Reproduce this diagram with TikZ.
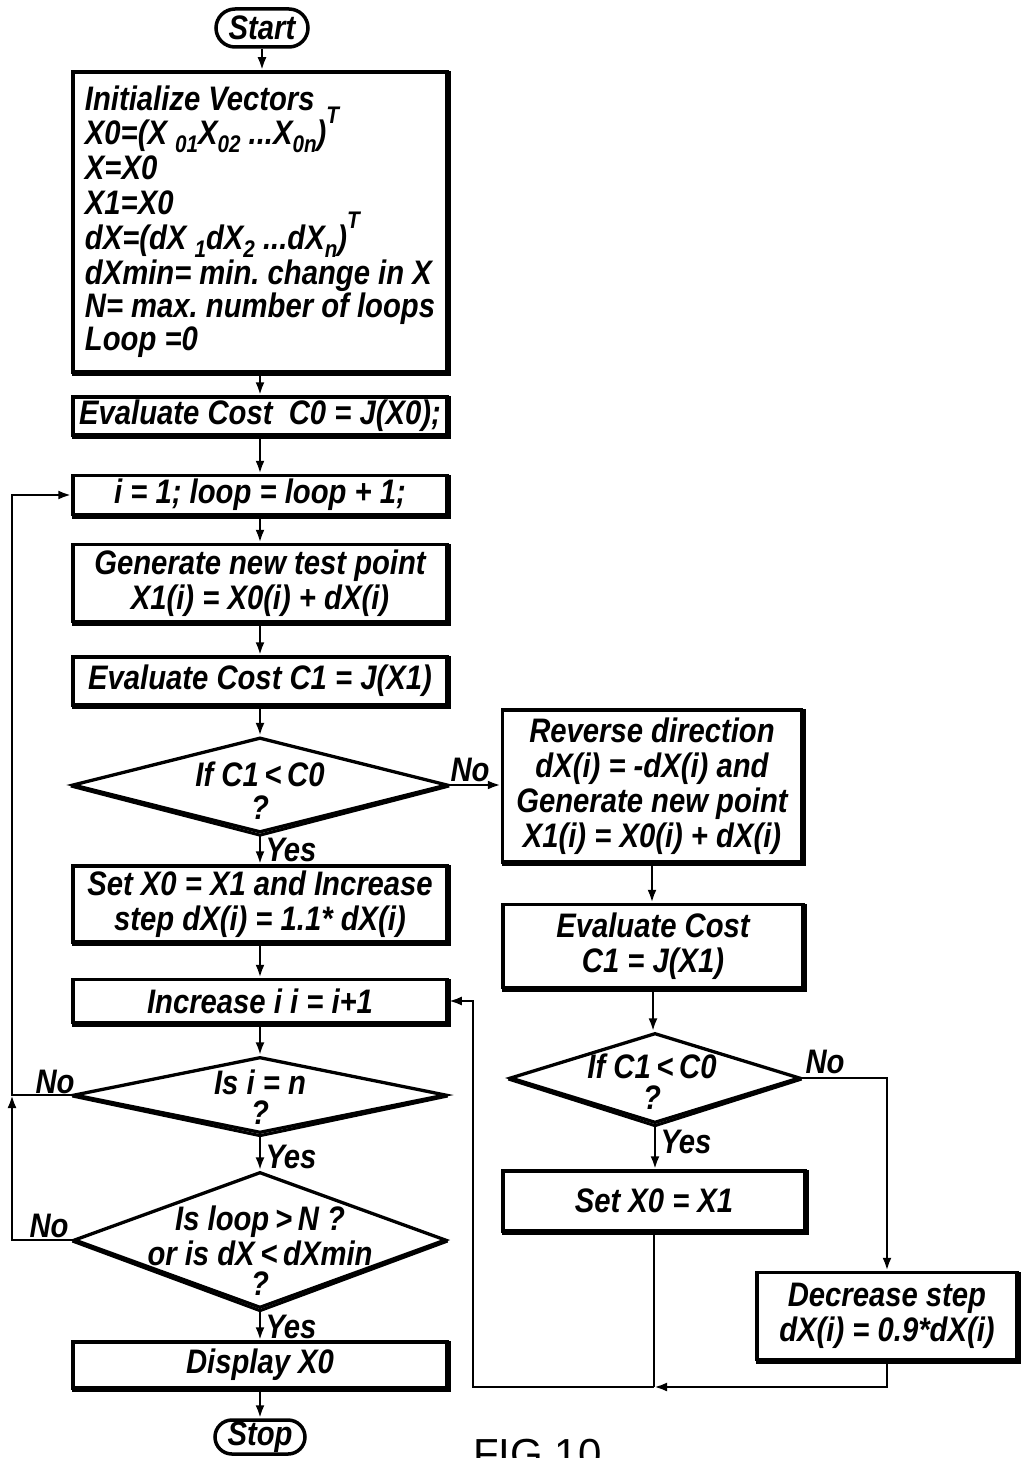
\documentclass[tikz,border=0pt]{standalone}
\usepackage{fontspec}
\setmainfont{Liberation Sans}
\newfontfamily\hv[FakeStretch=0.86]{Liberation Sans}
\usetikzlibrary{shapes.geometric,shapes.misc,arrows.meta}
\newcommand\mysb[1]{\raisebox{-0.22em}{\fontsize{24}{24}\selectfont #1}}
\newcommand\mysp[1]{\raisebox{0.62em}{\fontsize{24}{24}\selectfont #1}}
\newcommand\myfont{\hv\bfseries\itshape\fontsize{34}{35}\selectfont\frenchspacing\lineskiplimit=-60pt\relax}
\begin{document}
\begin{tikzpicture}[x=1pt,y=-1pt,
  every node/.style={font=\myfont, inner sep=0pt},
  box/.style={draw, line width=3.5pt, rectangle, align=center},
  dia/.style={draw, line width=3.3pt, diamond},
  term/.style={draw, line width=3.5pt, rounded rectangle},
  conn/.style={line width=2.6pt, -{Latex[length=13pt,width=9pt]}},
  plain/.style={line width=2.6pt},
  shade/.style={line width=3pt}]
\useasboundingbox (0,0) rectangle (1021,1458);

% left column
\node[term, minimum width=92pt, minimum height=38pt] (start) at (262,28) {Start};
\node[box, minimum width=374pt, minimum height=300pt, align=left] (init) at (260,222)
 {Initialize Vectors\\[-1pt]
  X0=(X \mysb{01}X\mysb{02} ...X\mysb{0n})\mysp{T}\\
  X=X0\\
  X1=X0\\
  dX=(dX \mysb{1}dX\mysb{2} ...dX\mysb{n})\mysp{T}\\
  dXmin= min. change in X\\[-2pt]
  N= max. number of loops\\[-2pt]
  Loop =0};
\node[box, minimum width=374pt, minimum height=38pt] (eval0) at (260,416) {Evaluate Cost~~C0 = J(X0);};
\node[box, minimum width=374pt, minimum height=39pt] (init1) at (260,495) {i = 1; loop = loop + 1;};
\node[box, minimum width=374pt, minimum height=77pt] (gen) at (260,583) {Generate new test point\\X1(i) = X0(i) + dX(i)};
\node[box, minimum width=374pt, minimum height=48pt] (eval1) at (260,681) {Evaluate Cost C1 = J(X1)};
\node[dia, minimum width=375pt, minimum height=95pt] (d1) at (260,785) {};
\node (d1a) at (260,774) {If C1\,<\,C0};
\node (d1b) at (260,808) {?};
\node[box, minimum width=374pt, minimum height=76pt] (setx) at (260,904) {Set X0 = X1 and Increase\\step dX(i) = 1.1* dX(i)};
\node[box, minimum width=374pt, minimum height=43pt] (inc) at (260,1001) {Increase i i = i+1};
\node[dia, minimum width=372pt, minimum height=76pt] (d2) at (260,1095) {};
\node (d2a) at (260,1082) {Is i = n};
\node (d2b) at (260,1113) {?};
\node[dia, minimum width=372pt, minimum height=136pt] (d3) at (260,1240) {};
\node (d3a) at (260,1222) {Is loop\,>\,N ?};
\node (d3b) at (260,1253) {or is dX\,<\,dXmin};
\node (d3c) at (260,1284) {?};
\node[box, minimum width=374pt, minimum height=46pt] (disp) at (260,1365) {Display X0};
\node[term, minimum width=90pt, minimum height=34pt] (stop) at (260,1437) {Stop};

% right column
\node[box, minimum width=299pt, minimum height=152pt] (rev) at (652,786)
 {Reverse direction\\dX(i) = -dX(i) and\\Generate new point\\X1(i) = X0(i) + dX(i)};
\node[box, minimum width=300pt, minimum height=83pt] (evalr) at (653,946) {Evaluate Cost\\C1 = J(X1)};
\node[dia, minimum width=290pt, minimum height=90pt] (d4) at (655,1078) {};
\node (d4a) at (652,1066) {If C1\,<\,C0};
\node (d4b) at (652,1098) {?};
\node[box, minimum width=302pt, minimum height=60pt] (setr) at (654,1201) {Set X0 = X1};
\node[box, minimum width=260pt, minimum height=87pt] (dec) at (887,1316) {Decrease step\\dX(i) = 0.9*dX(i)};

% shading of lower/right edges
\foreach \n in {init,eval0,init1,gen,eval1,setx,inc,disp,rev,evalr,setr,dec}
  \draw[shade] ([shift={(1.2,1.2)}]\n.south west) -- ([shift={(1.2,1.2)}]\n.south east) -- ([shift={(1.2,1.2)}]\n.north east);
\foreach \n in {d1,d2,d3,d4}
  \draw[shade] ([yshift=-1pt]\n.west) -- ([yshift=-1pt]\n.south) -- ([yshift=-1pt]\n.east);

% main connectors
\draw[conn] (start.south) -- (start.south |- init.north);
\draw[conn] (init.south) -- (init.south |- eval0.north);
\draw[conn] (eval0.south) -- (eval0.south |- init1.north);
\draw[conn] (init1.south) -- (init1.south |- gen.north);
\draw[conn] (gen.south) -- (gen.south |- eval1.north);
\draw[conn] (eval1.south) -- (eval1.south |- d1.north);
\draw[conn] (d1.south) -- (d1.south |- setx.north);
\draw[conn] (setx.south) -- (setx.south |- inc.north);
\draw[conn] (inc.south) -- (inc.south |- d2.north);
\draw[conn] (d2.south) -- (d2.south |- d3.north);
\draw[conn] (d3.south) -- (d3.south |- disp.north);
\draw[conn] (disp.south) -- (disp.south |- stop.north);

\draw[conn] (d1.east) -- (d1.east -| rev.west);
\draw[conn] (rev.south) -- (rev.south |- evalr.north);
\draw[conn] (evalr.south) -- (evalr.south |- d4.north);
\draw[conn] (d4.south) -- (d4.south |- setr.north);
\draw[conn] (d4.east) -| (dec.north);

% left loop
\coordinate (L1) at (12,1240);
\coordinate (L2) at (d2.west -| L1);
\draw[conn] (d3.west) -- (d3.west -| L1) -- (L2);
\draw[conn] (d2.west) -- (L2) |- (init1.west);

% bottom return
\coordinate (J) at (setr.south |- 0,1387);
\coordinate (R) at (473,1387);
\draw[plain] (setr.south) -- (J);
\draw[conn] (dec.south) |- (J);
\draw[conn] (J) -- (R) |- (inc.east);

% labels
\node (y1) at (291,850) {Yes};
\node (y2) at (291,1157) {Yes};
\node (y3) at (291,1327) {Yes};
\node (y4) at (686,1142) {Yes};
\node (n1) at (470,770) {No};
\node (n2) at (55,1082) {No};
\node (n3) at (49,1226) {No};
\node (n4) at (825,1062) {No};

\node[font=\fontsize{42}{42}\selectfont, anchor=base west] (fig) at (473,1468) {FIG 10};
\end{tikzpicture}
\end{document}
